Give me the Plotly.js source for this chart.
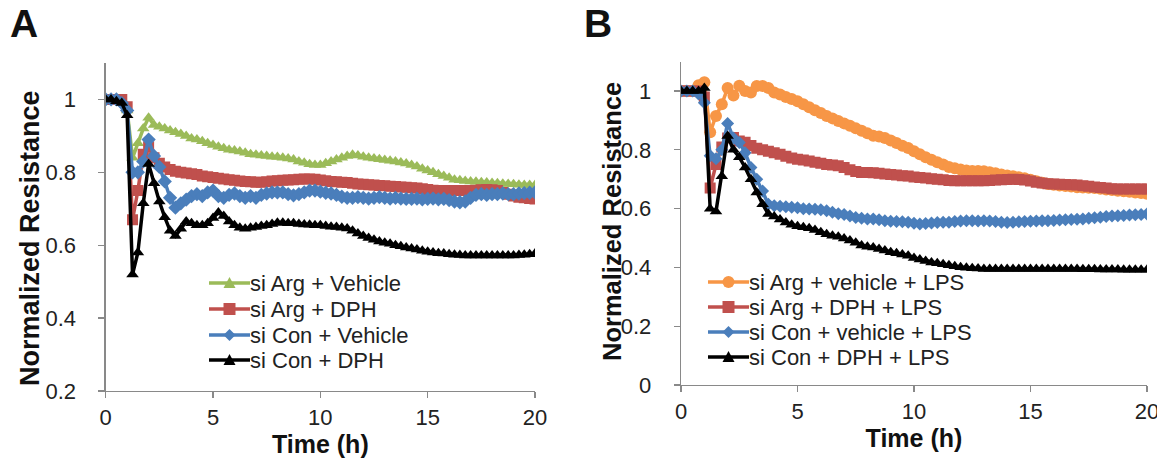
<!DOCTYPE html>
<html>
<head>
<meta charset="utf-8">
<script src="https://cdn.plot.ly/plotly-3.0.1.min.js"></script>
<style>html,body{margin:0;padding:0;background:#fff}#chart{width:1173px;height:460px}</style>
</head>
<body>
<div id="chart"></div>
<script>
const timeH = [0,0.25,0.5,0.75,1,1.25,1.5,1.75,2,2.25,2.5,2.75,3,3.25,3.5,3.75,4,4.25,4.5,4.75,5,5.25,5.5,5.75,6,6.25,6.5,6.75,7,7.25,7.5,7.75,8,8.25,8.5,8.75,9,9.25,9.5,9.75,10,10.25,10.5,10.75,11,11.25,11.5,11.75,12,12.25,12.5,12.75,13,13.25,13.5,13.75,14,14.25,14.5,14.75,15,15.25,15.5,15.75,16,16.25,16.5,16.75,17,17.25,17.5,17.75,18,18.25,18.5,18.75,19,19.25,19.5,19.75,20];

// Panel A
const argVehicle = [1.0,1.0,1.0,0.99,0.97,0.84,0.88,0.92,0.95,0.93,0.925,0.92,0.915,0.91,0.905,0.9,0.893,0.89,0.885,0.88,0.875,0.87,0.866,0.862,0.86,0.857,0.854,0.85,0.848,0.846,0.845,0.843,0.842,0.84,0.838,0.835,0.83,0.826,0.822,0.82,0.82,0.825,0.83,0.835,0.84,0.845,0.848,0.846,0.843,0.84,0.838,0.836,0.834,0.832,0.83,0.827,0.824,0.82,0.816,0.81,0.805,0.8,0.795,0.79,0.785,0.78,0.778,0.776,0.775,0.774,0.773,0.772,0.771,0.77,0.769,0.768,0.767,0.766,0.765,0.765,0.765];
const argDPH = [1.0,1.0,1.0,1.0,0.98,0.67,0.75,0.85,0.87,0.84,0.825,0.815,0.808,0.803,0.8,0.798,0.796,0.794,0.79,0.788,0.786,0.784,0.782,0.78,0.778,0.776,0.775,0.774,0.773,0.773,0.774,0.776,0.777,0.778,0.779,0.78,0.781,0.782,0.782,0.781,0.779,0.777,0.775,0.774,0.773,0.772,0.77,0.768,0.767,0.766,0.765,0.764,0.763,0.762,0.761,0.76,0.759,0.758,0.757,0.755,0.753,0.751,0.75,0.75,0.75,0.75,0.75,0.75,0.75,0.751,0.752,0.753,0.752,0.75,0.745,0.74,0.735,0.732,0.73,0.728,0.727];
const conVehicle = [1.0,1.0,1.0,0.99,0.97,0.8,0.8,0.83,0.89,0.845,0.815,0.775,0.73,0.703,0.715,0.725,0.735,0.74,0.735,0.745,0.75,0.735,0.73,0.738,0.742,0.735,0.73,0.735,0.73,0.738,0.742,0.745,0.745,0.745,0.74,0.737,0.74,0.745,0.75,0.75,0.747,0.744,0.742,0.738,0.733,0.73,0.73,0.732,0.73,0.728,0.73,0.732,0.73,0.728,0.73,0.728,0.727,0.727,0.728,0.726,0.727,0.728,0.726,0.727,0.724,0.72,0.718,0.72,0.73,0.738,0.74,0.738,0.74,0.74,0.742,0.74,0.74,0.742,0.743,0.744,0.745];
const conDPH = [1.0,1.0,0.995,0.99,0.957,0.52,0.58,0.715,0.823,0.77,0.72,0.677,0.64,0.625,0.645,0.665,0.66,0.655,0.655,0.66,0.675,0.69,0.68,0.665,0.655,0.648,0.645,0.648,0.65,0.653,0.655,0.658,0.662,0.662,0.66,0.66,0.658,0.657,0.656,0.655,0.655,0.653,0.651,0.65,0.648,0.646,0.64,0.632,0.625,0.62,0.615,0.61,0.607,0.604,0.6,0.597,0.594,0.591,0.588,0.585,0.582,0.58,0.578,0.577,0.575,0.574,0.573,0.572,0.572,0.572,0.572,0.572,0.572,0.572,0.572,0.572,0.572,0.573,0.574,0.575,0.577];

// Panel B
const argVehicleLPS = [1.0,1.0,1.0,1.02,1.03,0.86,0.915,0.955,1.01,0.985,1.018,1.0,0.995,1.017,1.017,1.01,0.995,0.988,0.98,0.973,0.965,0.955,0.945,0.935,0.925,0.915,0.907,0.898,0.89,0.882,0.873,0.865,0.856,0.848,0.845,0.84,0.832,0.823,0.814,0.806,0.795,0.785,0.775,0.766,0.758,0.75,0.742,0.737,0.733,0.73,0.728,0.728,0.727,0.724,0.72,0.716,0.713,0.71,0.707,0.703,0.698,0.693,0.688,0.684,0.681,0.679,0.677,0.675,0.673,0.672,0.671,0.67,0.668,0.665,0.663,0.661,0.659,0.657,0.655,0.653,0.651];
const argDPHLPS = [1.0,1.0,1.0,1.0,0.98,0.67,0.75,0.81,0.84,0.842,0.83,0.826,0.815,0.805,0.8,0.795,0.79,0.785,0.778,0.772,0.768,0.765,0.762,0.758,0.754,0.75,0.748,0.746,0.74,0.732,0.726,0.723,0.723,0.722,0.72,0.718,0.716,0.714,0.712,0.711,0.708,0.706,0.704,0.702,0.7,0.698,0.696,0.695,0.695,0.695,0.695,0.695,0.695,0.696,0.697,0.698,0.699,0.7,0.699,0.697,0.694,0.69,0.687,0.685,0.684,0.683,0.682,0.681,0.68,0.678,0.676,0.674,0.672,0.67,0.668,0.667,0.667,0.667,0.667,0.667,0.667];
const conVehicleLPS = [1.0,1.0,1.0,0.99,0.96,0.78,0.77,0.8,0.89,0.84,0.825,0.79,0.74,0.7,0.66,0.615,0.61,0.608,0.606,0.605,0.603,0.6,0.599,0.598,0.596,0.593,0.588,0.583,0.58,0.575,0.57,0.567,0.565,0.565,0.562,0.559,0.557,0.556,0.555,0.554,0.55,0.548,0.549,0.551,0.553,0.554,0.554,0.556,0.558,0.559,0.559,0.558,0.559,0.558,0.556,0.554,0.553,0.554,0.555,0.556,0.557,0.558,0.559,0.559,0.56,0.561,0.562,0.563,0.564,0.565,0.567,0.569,0.571,0.573,0.575,0.576,0.577,0.578,0.579,0.58,0.582];
const conDPHLPS = [1.0,1.0,1.0,1.0,1.01,0.6,0.59,0.71,0.847,0.8,0.775,0.74,0.7,0.655,0.615,0.582,0.573,0.563,0.553,0.545,0.54,0.537,0.533,0.527,0.52,0.513,0.508,0.504,0.498,0.492,0.484,0.475,0.47,0.468,0.463,0.458,0.452,0.448,0.444,0.44,0.432,0.427,0.422,0.417,0.414,0.411,0.407,0.404,0.401,0.399,0.397,0.396,0.395,0.395,0.395,0.395,0.395,0.395,0.395,0.395,0.395,0.395,0.395,0.395,0.395,0.395,0.395,0.395,0.395,0.394,0.394,0.394,0.393,0.393,0.393,0.393,0.392,0.392,0.392,0.392,0.392];

const xTicks = [0,5,10,15,20];
const yTicksA = [0.2,0.4,0.6,0.8,1];
const yTicksB = [0,0.2,0.4,0.6,0.8,1];
const yTickTextA = ['0.2','0.4','0.6','0.8','1'];
const yTickTextB = ['0','0.2','0.4','0.6','0.8','1'];

const namesA = ['si Arg + Vehicle','si Arg + DPH','si Con + Vehicle','si Con + DPH'];
const namesB = ['si Arg + vehicle + LPS','si Arg + DPH + LPS','si Con + vehicle + LPS','si Con + DPH + LPS'];

const FONT = 'Arial, "Liberation Sans", sans-serif';
const GREEN = '#9BBB59', RED = '#C0504D', BLUE = '#4A7EBB', BLACK = '#000000', ORANGE = '#F79646';
const W = 1173, H = 460;

const styleA = [
  {color: GREEN, symbol: 'triangle-up', size: 11},
  {color: RED, symbol: 'square', size: 11},
  {color: BLUE, symbol: 'diamond', size: 11},
  {color: BLACK, symbol: 'triangle-up', size: 11}
];
const styleB = [
  {color: ORANGE, symbol: 'circle', size: 12},
  {color: RED, symbol: 'square', size: 11},
  {color: BLUE, symbol: 'diamond', size: 10},
  {color: BLACK, symbol: 'triangle-up', size: 11}
];

function tr(y, name, st, xa, ya) {
  return {
    x: timeH, y: y, name: name, type: 'scatter', mode: 'lines+markers', showlegend: false,
    line: {color: st.color, width: 3.5},
    marker: {color: st.color, symbol: st.symbol, size: st.size, line: {width: 0}},
    xaxis: xa, yaxis: ya
  };
}

const seriesA = [argVehicle, argDPH, conVehicle, conDPH];
const seriesB = [argVehicleLPS, argDPHLPS, conVehicleLPS, conDPHLPS];
const data = [];
seriesA.forEach((s, i) => data.push(tr(s, namesA[i], styleA[i], 'x', 'y')));
seriesB.forEach((s, i) => data.push(tr(s, namesB[i], styleB[i], 'x2', 'y2')));

// custom legends (pixel placement converted to paper)
const shapes = [];
const annotations = [];
function markerShape(symbol, xa, ya, color) {
  const base = {xref: 'paper', yref: 'paper', xsizemode: 'pixel', ysizemode: 'pixel', xanchor: xa, yanchor: ya,
    fillcolor: color, line: {width: 0}, layer: 'above'};
  if (symbol === 'circle') return Object.assign(base, {type: 'circle', x0: -6, x1: 6, y0: -6, y1: 6});
  let p;
  if (symbol === 'triangle-up') p = 'M-6,-5 L6,-5 L0,6 Z';
  else if (symbol === 'square') p = 'M-6,-6 L6,-6 L6,6 L-6,6 Z';
  else p = 'M0,-6 L6,0 L0,6 L-6,0 Z';
  return Object.assign(base, {type: 'path', path: p});
}
function addLegend(names, styles, x0px, rowsPx, textXpx) {
  names.forEach((n, i) => {
    const yp = 1 - rowsPx[i] / H;
    shapes.push({type: 'line', xref: 'paper', yref: 'paper', x0: x0px / W, x1: (x0px + 41) / W, y0: yp, y1: yp,
      line: {color: styles[i].color, width: 3.5}, layer: 'above'});
    shapes.push(markerShape(styles[i].symbol, (x0px + 20.5) / W, yp, styles[i].color));
    annotations.push({text: n, xref: 'paper', yref: 'paper', x: textXpx / W, y: yp, xanchor: 'left', yanchor: 'middle',
      showarrow: false, font: {family: FONT, size: 22, color: '#222'}});
  });
}
addLegend(namesA, styleA, 209, [283, 309, 335, 360], 248);
addLegend(namesB, styleB, 708, [282, 307, 332, 357], 747);

annotations.push(
  {text: '<b>A</b>', xref: 'paper', yref: 'paper', x: 8 / W, y: 1 - 0 / H, xanchor: 'left', yanchor: 'top', showarrow: false, font: {family: FONT, size: 39, color: '#111'}},
  {text: '<b>B</b>', xref: 'paper', yref: 'paper', x: 582 / W, y: 1 - 0 / H, xanchor: 'left', yanchor: 'top', showarrow: false, font: {family: FONT, size: 39, color: '#111'}},
  {text: '<b>Normalized Resistance</b>', xref: 'paper', yref: 'paper', x: 30 / W, y: 1 - 238 / H, xanchor: 'center', yanchor: 'middle', textangle: -90, showarrow: false, font: {family: FONT, size: 27, color: '#111'}},
  {text: '<b>Normalized Resistance</b>', xref: 'paper', yref: 'paper', x: 612 / W, y: 1 - 222 / H, xanchor: 'center', yanchor: 'middle', textangle: -90, showarrow: false, font: {family: FONT, size: 25.5, color: '#111'}}
);
// the reference image is cropped through the last tick label of panel B
shapes.push({type: 'rect', xref: 'paper', yref: 'paper', x0: 1157 / W, x1: 1, y0: 0, y1: 1, fillcolor: '#fff', line: {width: 0}, layer: 'above'});

const axisCommon = {
  showline: true, linecolor: '#898989', linewidth: 1.3, showgrid: false, zeroline: false,
  ticks: 'outside', ticklen: 6, tickcolor: '#898989', tickwidth: 1.3,
  tickfont: {family: FONT, size: 22, color: '#222'}, automargin: false
};

const layout = {
  width: W, height: H,
  margin: {l: 0, r: 0, t: 0, b: 0},
  paper_bgcolor: '#fff', plot_bgcolor: '#fff',
  font: {family: FONT, color: '#222'},
  showlegend: false,
  xaxis: Object.assign({}, axisCommon, {domain: [0.0901, 0.4561], range: [0, 20], tickvals: xTicks, anchor: 'y', ticklabelstandoff: 0,
    title: {text: '<b>Time (h)</b>', font: {family: FONT, size: 25, color: '#111'}, standoff: 6}}),
  yaxis: Object.assign({}, axisCommon, {domain: [0.15, 0.863], range: [0.2, 1.1], tickvals: yTicksA, ticktext: yTickTextA, anchor: 'x', ticklabelstandoff: 18}),
  xaxis2: Object.assign({}, axisCommon, {domain: [0.5806, 0.9778], range: [0, 20], tickvals: xTicks, anchor: 'y2', ticklabelstandoff: 0,
    title: {text: '<b>Time (h)</b>', font: {family: FONT, size: 25, color: '#111'}, standoff: 6}}),
  yaxis2: Object.assign({}, axisCommon, {domain: [0.163, 0.866], range: [0, 1.1], tickvals: yTicksB, ticktext: yTickTextB, anchor: 'x2', ticklabelstandoff: 18}),
  shapes: shapes,
  annotations: annotations
};

Plotly.newPlot('chart', data, layout, {staticPlot: true, displayModeBar: false});
</script>
</body>
</html>
